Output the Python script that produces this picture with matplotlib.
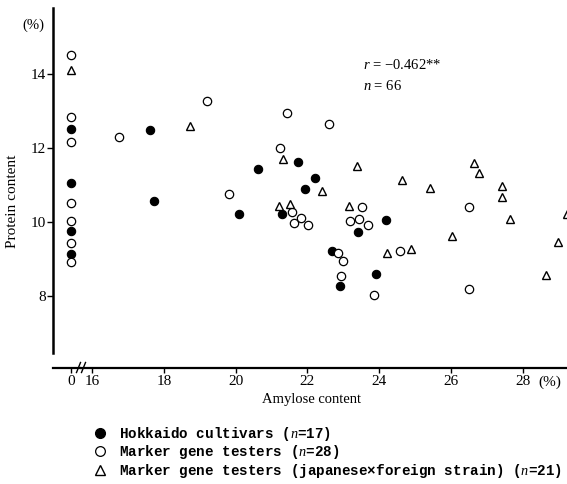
import matplotlib
matplotlib.use('Agg')
import matplotlib.pyplot as plt
from matplotlib.lines import Line2D

plt.rcParams['font.family'] = 'Liberation Serif'
plt.rcParams['mathtext.fontset'] = 'custom'
plt.rcParams['mathtext.it'] = 'Liberation Serif:italic'
plt.rcParams['mathtext.rm'] = 'Liberation Serif'

# Hokkaido cultivars (n=17)
hok_x = [0, 0, 0, 0, 17.61, 17.72, 20.08, 20.62, 21.29, 21.73, 21.94, 22.21,
         22.69, 22.90, 23.40, 23.92, 24.20]
hok_y = [12.51, 11.06, 9.77, 9.14, 12.48, 10.57, 10.22, 11.42, 10.22, 11.61,
         10.88, 11.20, 9.23, 8.29, 9.73, 8.60, 10.05]

# Marker gene testers (n=28)
mgt_x = [0, 0, 0, 0, 0, 0, 0, 16.75, 19.19, 19.82, 21.23, 21.42, 21.57, 21.62,
         21.82, 22.02, 22.60, 22.86, 22.92, 22.98, 23.18, 23.44, 23.51, 23.69,
         23.86, 24.59, 26.50, 26.50]
mgt_y = [14.50, 12.84, 12.16, 10.52, 10.03, 9.44, 8.92, 12.30, 13.26, 10.77,
         11.99, 12.93, 10.28, 9.98, 10.10, 9.92, 12.64, 9.17, 8.55, 8.95, 10.03,
         10.07, 10.40, 9.91, 8.03, 9.22, 10.41, 8.20]

# Marker gene testers (japanese x foreign strain) (n=21)
jxf_x = [0, 18.72, 21.20, 21.32, 21.52, 22.41, 23.15, 23.38, 24.22, 24.64, 24.89,
         25.41, 26.04, 26.64, 26.77, 27.42, 27.42, 27.64, 28.65, 28.98, 29.22]
jxf_y = [14.10, 12.59, 10.44, 11.70, 10.48, 10.83, 10.44, 11.52, 9.16, 11.13,
         9.27, 10.91, 9.63, 11.60, 11.33, 10.97, 10.68, 10.08, 8.57, 9.45, 10.23]

labels = ['Hokkaido cultivars ($n$=17)',
          'Marker gene testers ($n$=28)',
          'Marker gene testers (japanese\u00d7foreign strain) ($n$=21)']
xticks = [16, 18, 20, 22, 24, 26, 28]
yticks = [8, 10, 12, 14]

W, H = 567, 484
fig = plt.figure(figsize=(W / 100, H / 100), dpi=100)

bot = 1 - 367.5 / H
hgt = (367.5 - 8) / H
ax0 = fig.add_axes([53 / W, bot, 28 / W, hgt])
ax1 = fig.add_axes([81 / W, bot, (W - 81) / W, hgt], sharey=ax0)

ms = 6
for ax in (ax0, ax1):
    ax.plot(hok_x, hok_y, 'o', color='black', ms=ms, mew=0.8, ls='none')
    ax.plot(mgt_x, mgt_y, 'o', mfc='white', mec='black', ms=ms, mew=0.9, ls='none')
    ax.plot(jxf_x, jxf_y, '^', mfc='white', mec='black', ms=5.5, mew=1.0, ls='none')
    for s in ('top', 'right'):
        ax.spines[s].set_visible(False)
    ax.spines['bottom'].set_linewidth(1.6)

ax0.set_xlim(-0.50, 0.28)
ax1.set_xlim(15.69, 29.23)
ax0.set_ylim(6.08, 15.77)

ax0.spines['left'].set_linewidth(1.8)
ax0.spines['left'].set_bounds(6.47, 15.77)
ax1.spines['left'].set_visible(False)
ax1.tick_params(axis='y', left=False, labelleft=False)

ax0.set_yticks(yticks)
ax0.set_yticklabels([str(t) for t in yticks])
ax0.tick_params(axis='y', direction='out', length=4, width=1, pad=1, labelsize=11)
ax0.set_xticks([0])
ax0.set_xticklabels(['0'])
ax1.set_xticks(xticks)
ax1.set_xticklabels([str(t) for t in xticks])
for ax in (ax0, ax1):
    ax.tick_params(axis='x', direction='out', length=3.5, width=1, pad=2, labelsize=11)

# break marks on the x axis
for dx in (-2.5, 2.5):
    xa = dx / (W - 81)
    ax1.add_line(Line2D([xa - 2 / (W - 81), xa + 2 / (W - 81)],
                        [-5 / 359.5, 5 / 359.5], transform=ax1.transAxes,
                        color='black', lw=1.0, clip_on=False))

fig.text(33 / W, 1 - 25 / H, '(%)', ha='center', va='center', fontsize=10.5)
fig.text(550 / W, 1 - 382 / H, '(%)', ha='center', va='center', fontsize=11)
fig.text(13 / W, 1 - 201 / H, 'Protein content', rotation=90,
         ha='center', va='center', fontsize=11)
fig.text(311 / W, 1 - 399 / H, 'Amylose content', ha='center', va='center', fontsize=10.5)
fig.text(363 / W, 1 - 65 / H, '$r$ = \u22120.462**', ha='left', va='center', fontsize=10.5)
fig.text(363 / W, 1 - 86 / H, '$n$ = 66', ha='left', va='center', fontsize=10.5)

handles = [
    Line2D([], [], marker='o', color='black', ms=7, ls='none'),
    Line2D([], [], marker='o', mfc='white', mec='black', ms=7, mew=0.9, ls='none'),
    Line2D([], [], marker='^', mfc='white', mec='black', ms=6.5, mew=1.0, ls='none'),
]
fig.legend(handles, labels, loc='upper left', bbox_to_anchor=(86 / W, 1 - 418 / H),
           frameon=False, borderpad=0, handlelength=1.0, handletextpad=0.8,
           labelspacing=0.02, prop={'family': 'Liberation Mono', 'weight': 'bold',
                                    'size': 10.3})

fig.savefig('out.png', dpi=100)
